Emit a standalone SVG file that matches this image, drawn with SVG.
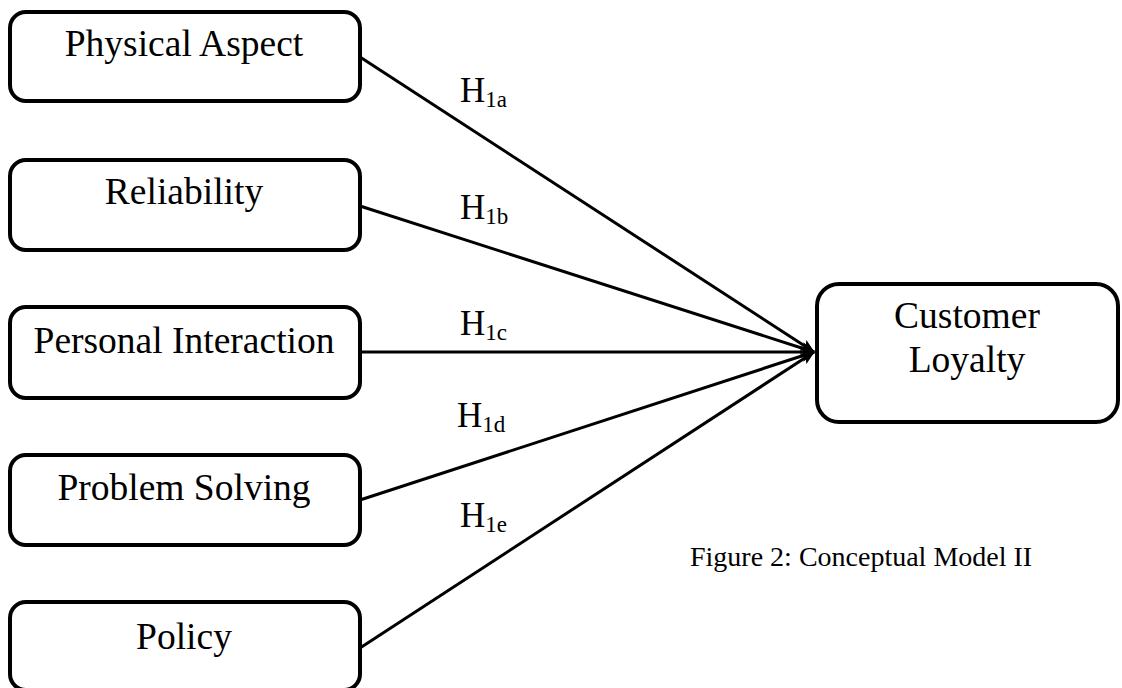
<svg xmlns="http://www.w3.org/2000/svg" width="1122" height="688" viewBox="0 0 1122 688">
<style>
.box{fill:#fff;stroke:#000;stroke-width:4}
.lbl{font-family:"Liberation Serif","Times New Roman",serif;font-size:37.5px;fill:#000;text-anchor:middle}
.h{font-family:"Liberation Serif","Times New Roman",serif;font-size:35px;fill:#000}
.sub{font-size:23px}
.cap{font-family:"Liberation Serif","Times New Roman",serif;font-size:28px;fill:#000}
.edge{stroke:#000;stroke-width:3;fill:none;marker-end:url(#arr)}
</style>
<defs>
<marker id="arr" markerWidth="14" markerHeight="12" refX="13" refY="6" orient="auto" markerUnits="userSpaceOnUse">
<path d="M0,0 L14,6 L0,12 L3,6 Z" fill="#000"/>
</marker>
</defs>
<rect width="1122" height="688" fill="#fff"/>
<g id="connectors">
<line class="edge" x1="360" y1="57" x2="814" y2="352"/>
<line class="edge" x1="360" y1="206" x2="814" y2="352"/>
<line class="edge" x1="360" y1="352" x2="814" y2="352"/>
<line class="edge" x1="360" y1="500" x2="814" y2="352"/>
<line class="edge" x1="360" y1="648" x2="814" y2="352"/>
</g>
<g id="physical-aspect">
<rect class="box" x="10" y="12" width="350" height="89" rx="16"/>
<text class="lbl" x="184" y="56">Physical Aspect</text>
</g>
<g id="reliability">
<rect class="box" x="10" y="160" width="350" height="90" rx="16"/>
<text class="lbl" x="184" y="204">Reliability</text>
</g>
<g id="personal-interaction">
<rect class="box" x="10" y="307" width="350" height="91" rx="16"/>
<text class="lbl" x="184" y="353">Personal Interaction</text>
</g>
<g id="problem-solving">
<rect class="box" x="10" y="455" width="350" height="90" rx="16"/>
<text class="lbl" x="184" y="500">Problem Solving</text>
</g>
<g id="policy">
<rect class="box" x="10" y="602" width="350" height="88" rx="16"/>
<text class="lbl" x="184" y="649">Policy</text>
</g>
<g id="customer-loyalty">
<rect class="box" x="817" y="284" width="301" height="138" rx="22"/>
<text class="lbl" x="967" y="328">Customer</text>
<text class="lbl" x="967" y="372">Loyalty</text>
</g>
<g id="labels">
<text class="h" x="460" y="102">H<tspan class="sub" dy="5">1a</tspan></text>
<text class="h" x="460" y="219">H<tspan class="sub" dy="5">1b</tspan></text>
<text class="h" x="460" y="335">H<tspan class="sub" dy="5">1c</tspan></text>
<text class="h" x="457" y="427">H<tspan class="sub" dy="5">1d</tspan></text>
<text class="h" x="460" y="527">H<tspan class="sub" dy="5">1e</tspan></text>
</g>
<text class="cap" x="690" y="566">Figure 2: Conceptual Model II</text>
</svg>
